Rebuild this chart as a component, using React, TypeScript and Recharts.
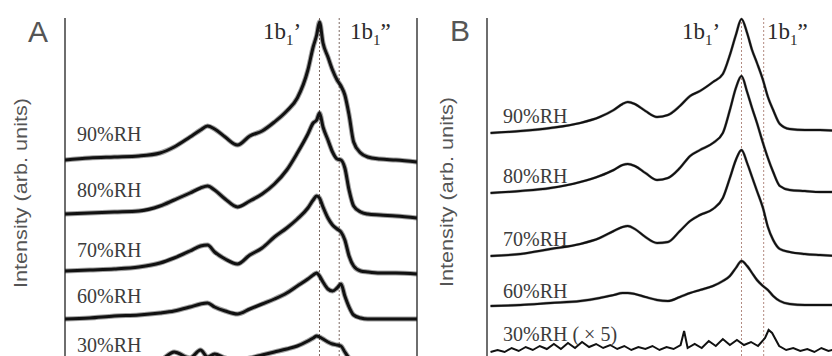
import React from 'react';
import { LineChart, Line, XAxis, YAxis, ReferenceLine } from 'recharts';

// relative emission energy (0-100 across a panel) and offset intensities (arb. units)
const A_ENERGY = [0, 7, 14, 21, 27, 31, 35.5, 38.5, 40.5, 42.5, 45.5, 49, 52.5, 56, 59.5, 63, 66, 69, 70.5, 71.5, 72.3, 73.3, 74.7, 76, 77.3, 78.4, 79.5, 80.7, 82, 84, 86, 89.5, 94, 100];
const A_RH90 = [196, 198, 199, 200, 203, 209, 219, 226, 230, 227, 219, 211, 220, 225, 234, 245, 258, 286, 309, 321, 334, 313, 299, 286, 276, 270, 261, 241, 214, 203, 199, 197, 196, 194];
const A_RH80 = [142, 143, 144, 145, 150, 156, 163, 168, 170, 166, 157, 149, 155, 162, 172, 186, 203, 222, 233, 236, 243, 229, 216, 204, 197, 196, 188, 166, 150, 144, 142, 141, 140, 138];
const A_RH70 = [85, 86, 87, 89, 93, 98, 105, 110, 111, 104, 97, 92, 101, 108, 119, 128, 137, 148, 156, 160, 158, 149, 138, 131, 127, 124, 116, 100, 90, 85, 84, 83, 83, 82];
const A_RH60 = [37, 38, 40, 41, 43, 45, 49, 52, 53, 49, 45, 42, 47, 52, 57, 63, 70, 77, 81, 83, 80, 74, 67, 65, 68, 72, 60, 49, 41, 38, 37, 37, 37, 37];
const A_RH30 = [-6, -6, -5, -5, -4, 4, -2, 6, -1, 2, -2, -4, -2, 1, 4, 7, 10, 15, 18, 20, 19, 17, 14, 12, 11, 10, 4, -2, -6, -8, -9, -9, -10, -10];

const B_ENERGY = [1, 9.5, 18, 26.5, 32, 36, 38.5, 40, 42, 45, 48.3, 51.4, 54.8, 57.7, 60.5, 64.2, 67, 69, 70.7, 72.3, 73.9, 75.3, 76.7, 78.4, 79.8, 81.3, 83.2, 86, 90.3, 94.6, 100];
const B_RH90 = [223, 225, 228, 233, 239, 246, 252, 254, 252, 245, 239, 241, 250, 260, 265, 274, 282, 301, 321, 337, 323, 306, 293, 276, 259, 246, 232, 227, 226, 226, 225];
const B_RH80 = [163, 165, 168, 174, 180, 186, 191, 192, 190, 183, 176, 178, 188, 200, 206, 213, 223, 246, 268, 280, 264, 248, 233, 213, 198, 184, 170, 166, 165, 164, 164];
const B_RH70 = [100, 102, 107, 112, 118, 125, 129, 130, 127, 119, 113, 114, 125, 135, 141, 147, 158, 178, 196, 206, 193, 179, 165, 148, 129, 116, 107, 104, 102, 101, 100];
const B_RH60 = [50, 51, 53, 55, 58, 61, 63, 63, 62, 59, 56, 55, 59, 63, 66, 70, 75, 80, 88, 95, 90, 83, 76, 70, 66, 60, 55, 52, 51, 51, 51];

// 30%RH (x5) in panel B is noisy, read on its own finer grid
const B_RH30_ENERGY = [1, 3, 5, 7, 9, 11, 13, 15, 17, 19, 21, 23, 25, 27, 29, 31, 33, 35, 37, 39, 41, 43, 45, 47, 49, 51, 53, 55, 56, 57, 59, 61, 63, 65, 67, 69, 71, 73, 75, 77, 79, 80, 81, 83, 85, 87, 89, 91, 93, 95, 97, 99];
const B_RH30 = [4, 6, 4, 8, 5, 9, 6, 10, 7, 12, 7, 13, 8, 14, 9, 12, 8, 11, 7, 10, 6, 9, 7, 10, 6, 9, 7, 11, 25, 8, 12, 8, 15, 10, 17, 11, 16, 11, 14, 10, 18, 26, 23, 10, 6, 8, 5, 7, 4, 8, 5, 7];

const A_MARKERS = [72.3, 77.9];
const B_MARKERS = [72.3, 78.6];

const RH_LABELS = ['90%RH', '80%RH', '70%RH', '60%RH'];

const rowsA = A_ENERGY.map((e, i) => ({
  e, rh90: A_RH90[i], rh80: A_RH80[i], rh70: A_RH70[i], rh60: A_RH60[i], rh30: A_RH30[i],
}));
const rowsB = B_ENERGY.map((e, i) => ({
  e, rh90: B_RH90[i], rh80: B_RH80[i], rh70: B_RH70[i], rh60: B_RH60[i],
}));
const rowsB30 = B_RH30_ENERGY.map((e, i) => ({ e, rh30: B_RH30[i] }));

const TOP = 338; // where the frame lines start

const serif = '"Liberation Serif", "Times New Roman", serif';
const sans = '"Liberation Sans", Arial, sans-serif';

interface PanelProps {
  left: number;
  rows: Record<string, number>[];
  markers: number[];
  markerColor: string;
  strokeWidth: number;
  fuzz: number;
  rightFrame?: boolean;
  extra?: React.ReactNode;
}

const Panel = ({ left, rows, markers, markerColor, strokeWidth, fuzz, rightFrame, extra }: PanelProps) => {
  const keys = ['rh90', 'rh80', 'rh70', 'rh60', 'rh30'].filter((k) => k in rows[0]);
  return (
    <div style={{ position: 'absolute', left, top: 0 }}>
      <LineChart width={366} height={356} data={rows} margin={{ top: 0, right: 7, bottom: 0, left: 7 }}>
        <XAxis type="number" dataKey="e" domain={[0, 100]} hide allowDataOverflow />
        <YAxis type="number" domain={[0, 356]} hide allowDataOverflow />
        {markers.map((m) => (
          <ReferenceLine
            key={m}
            segment={[{ x: m, y: 0 }, { x: m, y: TOP }]}
            stroke={markerColor}
            strokeDasharray="2 2"
            strokeWidth={1}
          />
        ))}
        <ReferenceLine segment={[{ x: 0, y: 0 }, { x: 0, y: TOP }]} stroke="#6e6e6e" strokeWidth={2} />
        {rightFrame && (
          <ReferenceLine segment={[{ x: 100, y: 0 }, { x: 100, y: TOP }]} stroke="#6e6e6e" strokeWidth={2} />
        )}
        {/* soft halo under each trace to mimic the noisy band */}
        {keys.map((k) => (
          <Line
            key={k + '-halo'}
            type="monotone"
            dataKey={k}
            stroke="#111"
            strokeOpacity={0.4}
            strokeWidth={fuzz}
            dot={false}
            isAnimationActive={false}
          />
        ))}
        {keys.map((k) => (
          <Line
            key={k}
            type="monotone"
            dataKey={k}
            stroke="#111"
            strokeWidth={strokeWidth}
            dot={false}
            isAnimationActive={false}
          />
        ))}
        {extra}
      </LineChart>
    </div>
  );
};

export default function App() {
  const rhA = [141, 197, 257, 303];
  const rhB = [123, 183, 246, 298];
  return (
    <div style={{ position: 'fixed', left: 0, top: 0, width: 832, height: 356, overflow: 'hidden', background: '#fff' }}>
      <Panel left={58} rows={rowsA} markers={A_MARKERS} markerColor="#7d6a62" strokeWidth={3} fuzz={5} rightFrame />
      <Panel
        left={480}
        rows={rowsB}
        markers={B_MARKERS}
        markerColor="#b38a80"
        strokeWidth={2}
        fuzz={2.8}
        extra={
          <Line
            data={rowsB30}
            type="linear"
            dataKey="rh30"
            stroke="#111"
            strokeWidth={2}
            dot={false}
            isAnimationActive={false}
          />
        }
      />
      <svg width={832} height={356} style={{ position: 'absolute', left: 0, top: 0, pointerEvents: 'none' }}>
        <text x={28} y={42} fontFamily={sans} fontSize={30} fill="#555">A</text>
        <text x={450} y={41} fontFamily={sans} fontSize={30} fill="#555">B</text>
        <text transform="translate(27,193) rotate(-90)" textAnchor="middle" fontFamily={sans} fontSize={18}
          fill="#555" textLength={190} lengthAdjust="spacingAndGlyphs">Intensity (arb. units)</text>
        <text transform="translate(453,192) rotate(-90)" textAnchor="middle" fontFamily={sans} fontSize={18}
          fill="#555" textLength={190} lengthAdjust="spacingAndGlyphs">Intensity (arb. units)</text>
        {RH_LABELS.map((t, i) => (
          <text key={'a' + t} x={77} y={rhA[i]} fontFamily={serif} fontSize={20} fill="#3c3c3c">{t}</text>
        ))}
        <text x={77} y={352} fontFamily={serif} fontSize={20} fill="#3c3c3c">30%RH</text>
        {RH_LABELS.map((t, i) => (
          <text key={'b' + t} x={503} y={rhB[i]} fontFamily={serif} fontSize={20} fill="#3c3c3c">{t}</text>
        ))}
        <text x={503} y={341} fontFamily={serif} fontSize={20} fill="#3c3c3c">30%RH ( × 5)</text>
        {[263, 682].map((x) => (
          <text key={'p' + x} x={x} y={39} fontFamily={serif} fontSize={23} fill="#2a2a2a">
            1b<tspan fontSize={15} dy={6}>1</tspan><tspan dy={-6}>’</tspan>
          </text>
        ))}
        {[350, 767].map((x) => (
          <text key={'q' + x} x={x} y={39} fontFamily={serif} fontSize={23} fill="#2a2a2a">
            1b<tspan fontSize={15} dy={6}>1</tspan><tspan dy={-6}>”</tspan>
          </text>
        ))}
      </svg>
    </div>
  );
}
